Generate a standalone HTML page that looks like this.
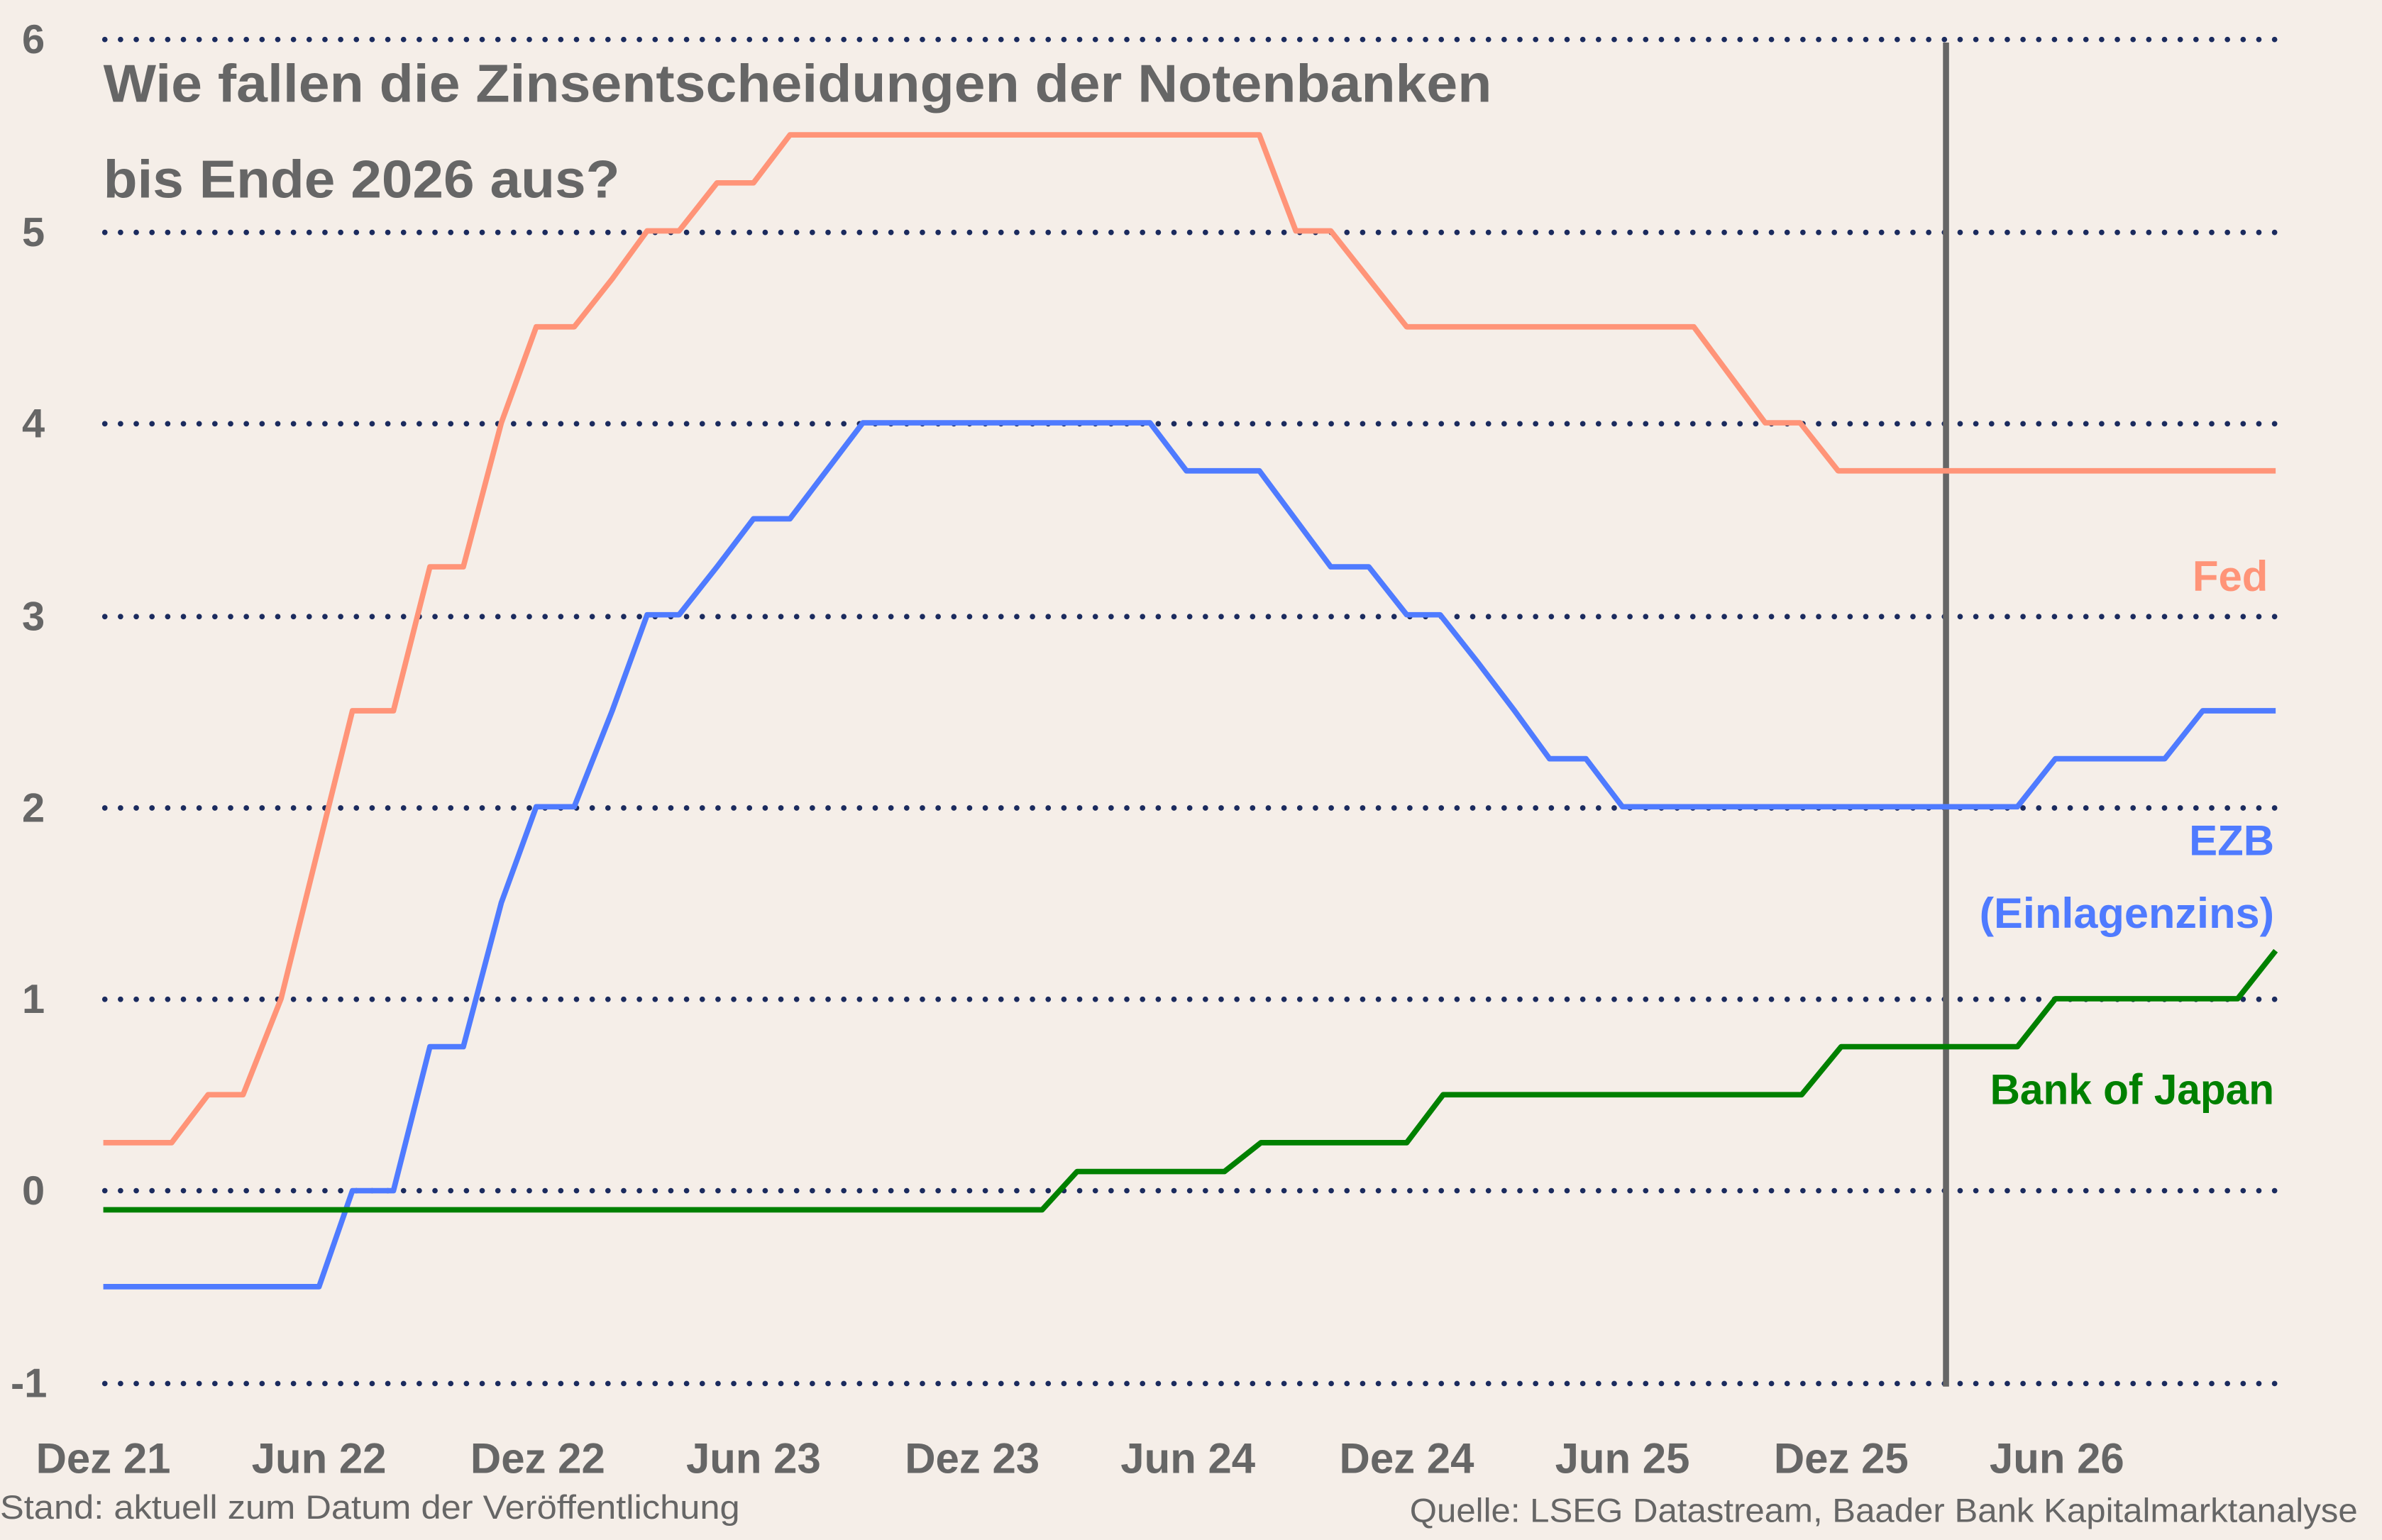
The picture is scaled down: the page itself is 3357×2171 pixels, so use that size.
<!DOCTYPE html>
<html><head><meta charset="utf-8"><style>
html,body{margin:0;padding:0;background:#F5EEE8;}
svg{display:block;}
text{font-family:"Liberation Sans",sans-serif;}
</style></head><body>
<svg width="3357" height="2171" viewBox="0 0 1568 1014" xmlns="http://www.w3.org/2000/svg">
<rect width="1568" height="1014" fill="#F5EEE8"/>
<g stroke="#1B2B5E" stroke-width="3.6" stroke-linecap="round" stroke-dasharray="0 10.35" fill="none">
<line x1="69" y1="26" x2="1500" y2="26"/>
<line x1="69" y1="153" x2="1500" y2="153"/>
<line x1="69" y1="279" x2="1500" y2="279"/>
<line x1="69" y1="406" x2="1500" y2="406"/>
<line x1="69" y1="532" x2="1500" y2="532"/>
<line x1="69" y1="658" x2="1500" y2="658"/>
<line x1="69" y1="784" x2="1500" y2="784"/>
<line x1="69" y1="911" x2="1500" y2="911"/>
</g>
<g font-weight="bold" font-size="27" fill="#666" text-anchor="middle">
<text x="22" y="35">6</text><text x="22" y="162">5</text><text x="22" y="288">4</text>
<text x="22" y="415">3</text><text x="22" y="541">2</text><text x="22" y="667">1</text>
<text x="22" y="793">0</text><text x="19" y="920">-1</text>
</g>
<text x="68" y="67" font-weight="bold" font-size="35" fill="#666" textLength="914" lengthAdjust="spacingAndGlyphs">Wie fallen die Zinsentscheidungen der Notenbanken</text>
<text x="68" y="130" font-weight="bold" font-size="35" fill="#666" textLength="340" lengthAdjust="spacingAndGlyphs">bis Ende 2026 aus?</text>
<line x1="1281" y1="28" x2="1281" y2="913" stroke="#666" stroke-width="4"/>
<g fill="none" stroke-width="3.6" stroke-linejoin="round">
<polyline stroke="#FF9478" points="68,752.4 113,752.4 137,720.8 160,720.8 185,657.6 232,468 259,468 283,373.2 305,373.2 330,278.4 353,215.2 378,215.2 403,183.6 426,152 447,152 472,120.4 496,120.4 520,88.8 829,88.8 853,152 876,152 926,215.2 1115,215.2 1162,278.4 1185,278.4 1210,310 1498,310"/>
<polyline stroke="#4F7BFF" points="68,847.2 210,847.2 232,784 259,784 283,689.2 305,689.2 330,594.4 353,531.2 378,531.2 403,468 426,404.8 447,404.8 472,373.2 496,341.6 520,341.6 568,278.4 757,278.4 781,310 829,310 876,373.2 901,373.2 926,404.8 948,404.8 973,436.4 997,468 1020,499.6 1044,499.6 1068,531.2 1328,531.2 1353,499.6 1425,499.6 1450,468 1498,468"/>
<polyline stroke="#008000" points="68,796.6 686,796.6 709,771.4 806,771.4 830,752.4 926,752.4 950,720.8 1186,720.8 1212,689.2 1328,689.2 1353,657.6 1473,657.6 1498,626"/>
</g>
<g font-weight="bold" font-size="28" text-anchor="end">
<text x="1493" y="389" fill="#FF9478">Fed</text>
<text x="1497" y="563" fill="#4F7BFF">EZB</text>
<text x="1497" y="611" fill="#4F7BFF" textLength="194" lengthAdjust="spacingAndGlyphs">(Einlagenzins)</text>
<text x="1497" y="727" fill="#008000" textLength="187" lengthAdjust="spacingAndGlyphs">Bank of Japan</text>
</g>
<g font-weight="bold" font-size="28" fill="#666" text-anchor="middle">
<text x="68" y="970">Dez 21</text><text x="210" y="970">Jun 22</text><text x="354" y="970">Dez 22</text>
<text x="496" y="970">Jun 23</text><text x="640" y="970">Dez 23</text><text x="782" y="970">Jun 24</text>
<text x="926" y="970">Dez 24</text><text x="1068" y="970">Jun 25</text><text x="1212" y="970">Dez 25</text>
<text x="1354" y="970">Jun 26</text>
</g>
<text x="0" y="1000" font-size="22" fill="#666" textLength="487" lengthAdjust="spacingAndGlyphs">Stand: aktuell zum Datum der Veröffentlichung</text>
<text x="928" y="1002" font-size="22" fill="#666" textLength="624" lengthAdjust="spacingAndGlyphs">Quelle: LSEG Datastream, Baader Bank Kapitalmarktanalyse</text>
</svg>
</body></html>
